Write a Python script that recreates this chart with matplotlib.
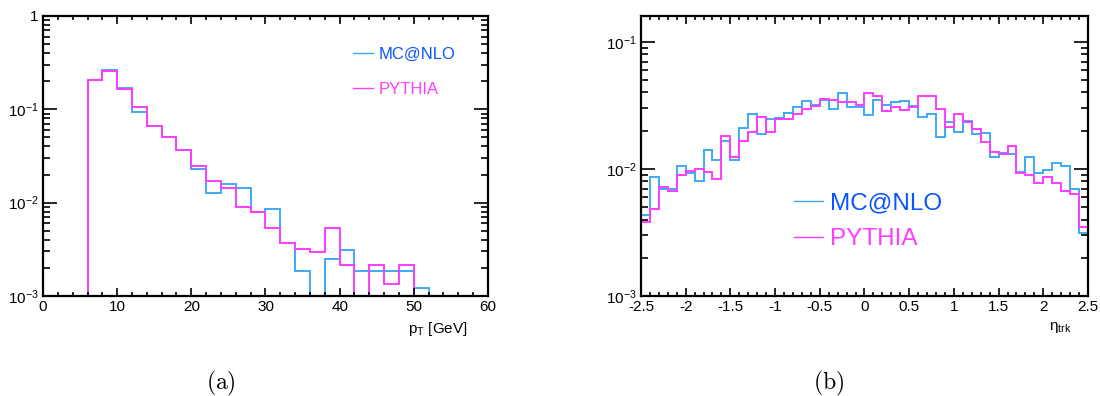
import matplotlib
matplotlib.use("Agg")
import matplotlib.pyplot as plt
import numpy as np
from matplotlib.lines import Line2D
from matplotlib.ticker import FixedLocator, LogLocator, MultipleLocator, NullFormatter, FixedFormatter

plt.rcParams["font.family"] = ["Liberation Sans", "DejaVu Sans"]
plt.rcParams["mathtext.default"] = "regular"

BLUE = "#3fa9f5"
BLUE_TXT = "#0a55ff"
MAGENTA = "#ff3cff"

# --- data ---
pt_edges = np.arange(0, 62, 2)
pt_mcnlo = [0, 0, 0, 0.205, 0.265, 0.170, 0.0944, 0.066, 0.0507, 0.037,
            0.0229, 0.0128, 0.016, 0.0142, 0.0080, 0.00855, 0.00371, 0.00185, 0, 0.00247,
            0.0031, 0.00187, 0.00187, 0.00187, 0.00187, 0.00123, 0, 0, 0, 0]
pt_pythia = [0, 0, 0, 0.206, 0.255, 0.164, 0.106, 0.066, 0.0507, 0.037,
             0.0249, 0.0171, 0.0145, 0.0090, 0.0080, 0.00533, 0.00371, 0.00322, 0.00295, 0.0053,
             0.00214, 0, 0.00214, 0.00134, 0.00214, 0, 0, 0, 0, 0]

eta_edges = np.linspace(-2.5, 2.5, 51)
eta_mcnlo = [0.00435, 0.0087, 0.0069, 0.0069, 0.01056, 0.00935, 0.00805, 0.0141, 0.0117, 0.0167,
             0.0118, 0.021, 0.027, 0.019, 0.0247, 0.0253, 0.0277, 0.0309, 0.034, 0.0318,
             0.0346, 0.0299, 0.0393, 0.0305, 0.031, 0.0265, 0.0352, 0.032, 0.0338, 0.0344,
             0.0313, 0.0258, 0.0273, 0.0179, 0.0236, 0.0196, 0.024, 0.019, 0.0193, 0.0125,
             0.0134, 0.013, 0.00953, 0.0125, 0.00925, 0.00982, 0.0111, 0.0106, 0.0069, 0.00313]
eta_pythia = [0.0038, 0.00485, 0.00727, 0.00671, 0.0089, 0.00964, 0.01, 0.0094, 0.00834, 0.0183,
              0.0125, 0.0167, 0.0196, 0.0255, 0.0195, 0.0246, 0.0246, 0.0273, 0.0298, 0.0313,
              0.0356, 0.0348, 0.0336, 0.0338, 0.032, 0.0398, 0.0374, 0.0287, 0.0309, 0.029,
              0.0305, 0.0377, 0.0377, 0.0298, 0.0215, 0.0272, 0.0236, 0.0205, 0.0164, 0.0137,
              0.013, 0.0152, 0.00925, 0.00898, 0.00781, 0.00861, 0.00781, 0.00671, 0.00632, 0.00352]

pt_yticks = [1e-3, 1e-2, 1e-1, 1]
pt_ylabels = ["$10^{-3}$", "$10^{-2}$", "$10^{-1}$", "1"]
eta_yticks = [1e-3, 1e-2, 1e-1]
eta_ylabels = ["$10^{-3}$", "$10^{-2}$", "$10^{-1}$"]
eta_xticks = np.arange(-2.5, 2.51, 0.5)
eta_xlabels = ["-2.5", "-2", "-1.5", "-1", "-0.5", "0", "0.5", "1", "1.5", "2", "2.5"]
series_names = ["MC@NLO", "PYTHIA"]


def style_axes(ax, yticks, ylabels):
    ax.set_yscale("log")
    ax.yaxis.set_major_locator(FixedLocator(yticks))
    ax.yaxis.set_major_formatter(FixedFormatter(ylabels))
    ax.yaxis.set_minor_locator(LogLocator(base=10, subs=np.arange(2, 10)))
    ax.yaxis.set_minor_formatter(NullFormatter())
    for sp in ax.spines.values():
        sp.set_linewidth(1.6)
    ax.tick_params(which="both", direction="in", top=True, right=True,
                   labelsize=11, pad=3, width=1.2)
    ax.tick_params(axis="y", which="major", length=10)
    ax.tick_params(axis="y", which="minor", length=5)
    ax.tick_params(axis="x", which="major", length=6)
    ax.tick_params(axis="x", which="minor", length=3)


def draw_hists(ax, edges, a, b):
    ax.stairs(np.array(a, dtype=float), edges, baseline=None, color=BLUE, lw=1.4)
    ax.stairs(np.array(b, dtype=float), edges, baseline=None, color=MAGENTA, lw=1.4)


fig = plt.figure(figsize=(11, 3.96), dpi=100)
ax1 = fig.add_axes([0.0391, 0.2525, 0.4045, 0.7071])
ax2 = fig.add_axes([0.5827, 0.2525, 0.4064, 0.7071])

# (a) pT
draw_hists(ax1, pt_edges, pt_mcnlo, pt_pythia)
ax1.set_xlim(0, 60)
ax1.set_ylim(1e-3, 1)
style_axes(ax1, pt_yticks, pt_ylabels)
ax1.xaxis.set_major_locator(MultipleLocator(10))
ax1.xaxis.set_minor_locator(MultipleLocator(2))
ax1.text(0.955, -0.085, "$p_{T}$ [GeV]", transform=ax1.transAxes,
         ha="right", va="top", fontsize=11)

handles = [Line2D([], [], color=BLUE, lw=1), Line2D([], [], color=MAGENTA, lw=1)]
ax1.legend(handles, series_names, loc="upper left", bbox_to_anchor=(0.697, 0.889),
           frameon=False, fontsize=12, handlelength=1.2, handletextpad=0.3,
           labelspacing=1.19, borderpad=0, borderaxespad=0,
           labelcolor=[BLUE_TXT, MAGENTA])

# (b) eta
draw_hists(ax2, eta_edges, eta_mcnlo, eta_pythia)
ax2.set_xlim(-2.5, 2.5)
ax2.set_ylim(1e-3, 0.16)
style_axes(ax2, eta_yticks, eta_ylabels)
ax2.xaxis.set_major_locator(FixedLocator(eta_xticks))
ax2.xaxis.set_major_formatter(FixedFormatter(eta_xlabels))
ax2.xaxis.set_minor_locator(MultipleLocator(0.1))
ax2.text(0.963, -0.085, r"$\eta_{trk}$", transform=ax2.transAxes,
         ha="right", va="top", fontsize=11)

handles = [Line2D([], [], color=BLUE, lw=1), Line2D([], [], color=MAGENTA, lw=1)]
ax2.legend(handles, series_names, loc="upper left", bbox_to_anchor=(0.342, 0.369),
           frameon=False, fontsize=17.5, handlelength=1.2, handletextpad=0.3,
           labelspacing=0.55, borderpad=0, borderaxespad=0,
           labelcolor=[BLUE_TXT, MAGENTA])

# captions
fig.text(221 / 1100, 1 - 383 / 396, r"$\mathrm{(a)}$", math_fontfamily="cm",
         ha="center", va="center", fontsize=17)
fig.text(829 / 1100, 1 - 383 / 396, r"$\mathrm{(b)}$", math_fontfamily="cm",
         ha="center", va="center", fontsize=17)

fig.savefig("out.png", dpi=100)
